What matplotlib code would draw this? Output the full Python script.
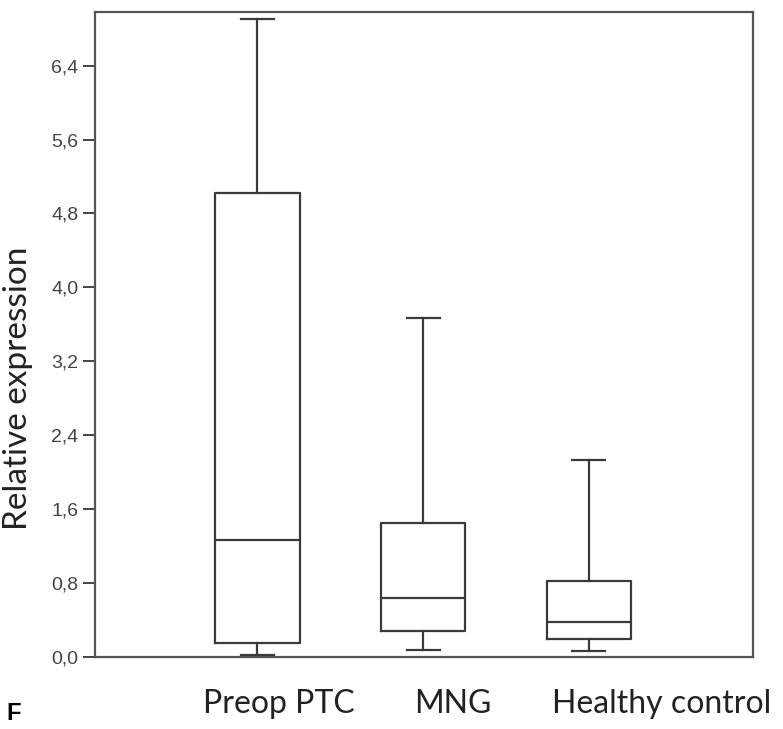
import numpy as np
import matplotlib.pyplot as plt

# box statistics
groups = ["Preop PTC", "MNG", "Healthy control"]
whislo = [0.02, 0.08, 0.065]
q1 = [0.15, 0.28, 0.19]
med = [1.27, 0.64, 0.38]
q3 = [5.02, 1.45, 0.82]
whishi = [6.90, 3.67, 2.13]
yticks = [0.0, 0.8, 1.6, 2.4, 3.2, 4.0, 4.8, 5.6, 6.4]

fig = plt.figure(figsize=(7.83, 7.29), dpi=100)
ax = fig.add_axes([95/783, 1 - 657/729, (753-95)/783, (657-12)/729])

stats = []
for i in range(len(groups)):
    stats.append(dict(whislo=whislo[i], q1=q1[i], med=med[i], q3=q3[i],
                      whishi=whishi[i], fliers=[], label=groups[i]))

lc = '#3a3a3a'
lw = 1.6
ax.bxp(stats, positions=[1, 2, 3], widths=0.51, showfliers=False,
       boxprops=dict(color=lc, linewidth=lw),
       medianprops=dict(color=lc, linewidth=lw),
       whiskerprops=dict(color=lc, linewidth=lw),
       capprops=dict(color=lc, linewidth=lw),
       capwidths=0.2)

ax.set_xlim(0.02, 3.99)
ax.set_ylim(0, 6.98)
ax.set_xticks([])
ax.set_yticks(yticks)
ax.set_yticklabels([("%.1f" % v).replace('.', ',') for v in yticks],
                   family='Liberation Sans', fontsize=14, color='#444444')
ax.tick_params(axis='y', direction='out', length=8.5, width=1.4, color='#444444', pad=3.5)
for s in ax.spines.values():
    s.set_color('#555555')
    s.set_linewidth(1.6)

# category labels and panel letter sit below the frame
lab_y = 1 - 713/729
fig.text(279/783, lab_y, "Preop PTC", ha='center', va='baseline',
         family='Lato', fontsize=23, color='#222222')
fig.text(453/783, lab_y, "MNG", ha='center', va='baseline',
         family='Lato', fontsize=23, color='#222222')
fig.text(662/783, lab_y, "Healthy control", ha='center', va='baseline',
         family='Lato', fontsize=23, color='#222222')
fig.text(18/783, 1 - 388/729, "Relative expression", ha='center', va='center',
         rotation=90, family='Lato', fontsize=24, color='#222222')
fig.text(14/783, 1 - 720/729, "F", ha='center', va='baseline',
         family='Liberation Sans', fontsize=17, fontweight='bold', color='black')

fig.savefig("out.png", dpi=100)
